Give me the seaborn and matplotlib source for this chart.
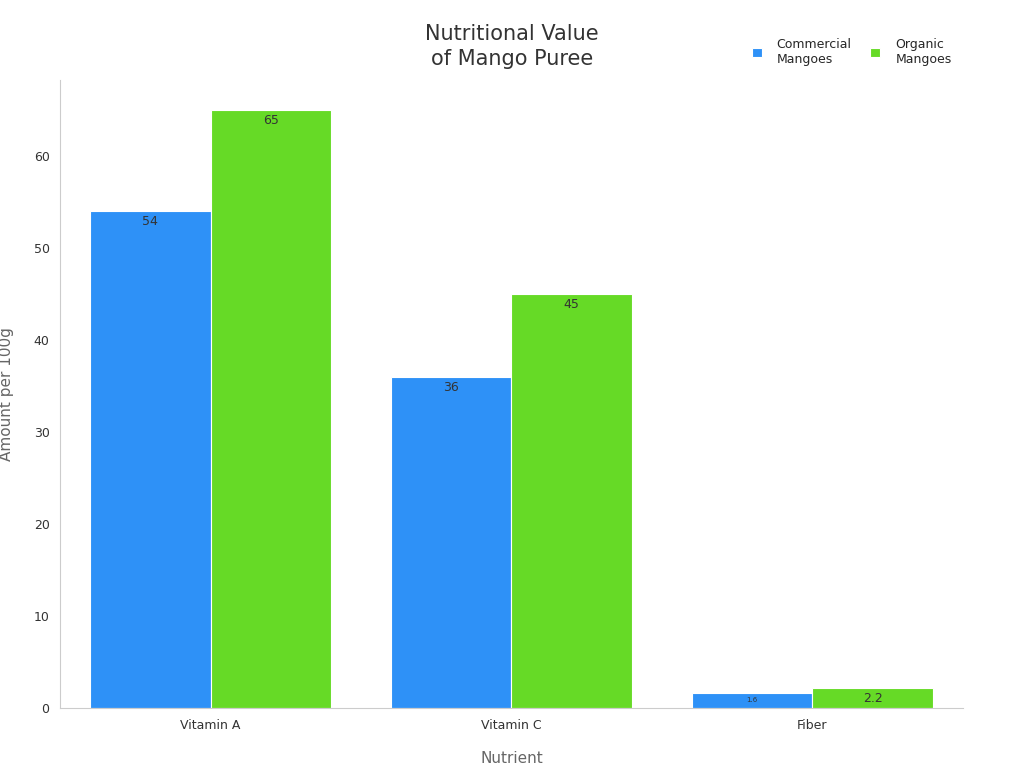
import matplotlib
matplotlib.use("Agg")
import matplotlib.pyplot as plt
import seaborn as sns
import pandas as pd

# Data
nutrients = ["Vitamin A", "Vitamin C", "Fiber"]
commercial = [54, 36, 1.6]
organic = [65, 45, 2.2]
series = ["Commercial\nMangoes", "Organic\nMangoes"]
colors = ["#2E91F7", "#66DA26"]

df = pd.DataFrame({
    "Nutrient": nutrients * 2,
    "Value": commercial + organic,
    "Series": [series[0]] * 3 + [series[1]] * 3,
})

sns.set_style("white")
fig = plt.figure(figsize=(10.24, 7.68), dpi=100)
ax = fig.add_axes([0.0586, 0.078, 0.8818, 0.818])

sns.barplot(data=df, x="Nutrient", y="Value", hue="Series", palette=colors,
            width=0.8, gap=0, edgecolor="white", linewidth=0.8, saturation=1, ax=ax)

# value labels inside bar tops
for cont in ax.containers:
    for bar in cont:
        h = bar.get_height()
        fs = 5 if h < 2 else 9
        txt = f"{h:g}"
        ax.text(bar.get_x() + bar.get_width() / 2, h - 0.4, txt,
                ha="center", va="top", fontsize=fs, color="#333333")

ax.set_xlim(-0.5, 2.5)
ax.set_ylim(0, 68.3)
ax.set_yticks([0, 10, 20, 30, 40, 50, 60])
ax.tick_params(axis="both", labelsize=9, colors="#333333", length=4)
ax.tick_params(axis="x", length=4)
for s in ["top", "right"]:
    ax.spines[s].set_visible(False)
for s in ["left", "bottom"]:
    ax.spines[s].set_color("#cccccc")

ax.set_xlabel("Nutrient", fontsize=11, color="#666666", labelpad=14)
ax.set_ylabel("Amount per 100g", fontsize=11, color="#666666", labelpad=14)
fig.text(0.5, 0.91, "Nutritional Value\nof Mango Puree", ha="center", va="bottom",
         fontsize=15, color="#333333", linespacing=1.3)

handles, labels = ax.get_legend_handles_labels()
ax.legend(handles, labels, loc="upper right", bbox_to_anchor=(1.0, 1.085), ncol=2,
          frameon=False, fontsize=9, handlelength=0.8, handleheight=0.8,
          columnspacing=1.5, handletextpad=1.2)

fig.savefig("out.png", dpi=100)
